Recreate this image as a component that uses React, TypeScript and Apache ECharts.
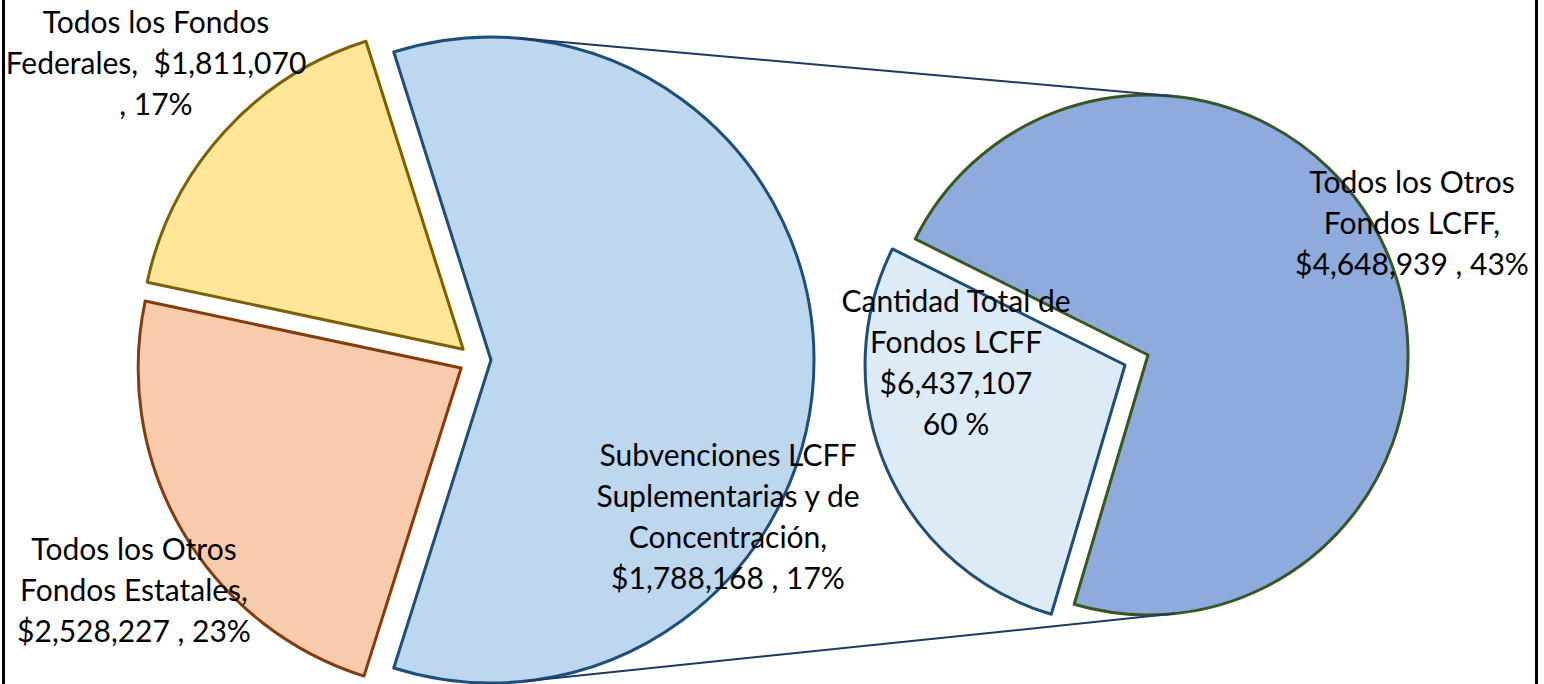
import { useEffect, useRef } from "react";
import * as echarts from "echarts";

// ---- Data ----
const leftNames = [
  "Cantidad Total de Fondos LCFF",
  "Todos los Otros Fondos Estatales",
  "Todos los Fondos Federales",
];
const leftValues = [6437107, 2528227, 1811070];
const leftLabelTemplates = [
  "Cantidad Total de\nFondos LCFF\n{v}\n{p} %",
  "Todos los Otros\nFondos Estatales,\n{v} , {p}%",
  "Todos los Fondos\nFederales,  {v}\n, {p}%",
];

const rightNames = [
  "Todos los Otros Fondos LCFF",
  "Subvenciones LCFF Suplementarias y de Concentración",
];
const rightValues = [4648939, 1788168];
const rightLabelTemplates = [
  "Todos los Otros\nFondos LCFF,\n{v} , {p}%",
  "Subvenciones LCFF\nSuplementarias y de\nConcentración,\n{v} , {p}%",
];

// ---- Styles / layout ----
const leftFill = ["#BDD7EE", "#F8CBAD", "#FFE699"];
const leftBorder = ["#1F4E79", "#843C0C", "#7F6000"];
const rightFill = ["#8FAADC", "#DDEBF7"];
const rightBorder = ["#385723", "#1F4E79"];

const leftCenter = [475, 360];
const leftRadius = 323;
const leftOffset = 16;
const rightCenter = [1148, 355];
const rightRadius = 260;
const rightOffset = 25;
const rightStartAngle = 153.5;

const leftLabelPos = [
  [956, 361],
  [134, 589],
  [156, 62],
];
const rightLabelPos = [
  [1412, 222],
  [728, 515],
];

const fmtMoney = (v: number) => "$" + v.toLocaleString("en-US");

export default function App() {
  const ref = useRef<HTMLDivElement>(null);

  useEffect(() => {
    if (!ref.current) return;
    const chart = echarts.init(ref.current, null, { renderer: "svg" });

    const total = leftValues.reduce((a, b) => a + b, 0);
    const leftStart = ((leftValues[0] / total) * 360) / 2;

    const labelText = (tpl: string, v: number) =>
      tpl.replace("{v}", fmtMoney(v)).replace("{p}", String(Math.round((v / total) * 100)));

    const textEl = (txt: string, pos: number[]) => ({
      type: "text",
      z: 200,
      x: pos[0],
      y: pos[1],
      style: {
        text: txt,
        fill: "#000",
        font: "30px Lato",
        lineHeight: 41,
        align: "center",
        verticalAlign: "middle",
      },
    });

    // connector tangent lines between exploded left slice circle and right pie
    const c1 = [leftCenter[0] + leftOffset, leftCenter[1]];
    const c2 = rightCenter;
    const dx = c2[0] - c1[0];
    const dy = c2[1] - c1[1];
    const L = Math.sqrt(dx * dx + dy * dy);
    const ux = dx / L;
    const uy = dy / L;
    const k = (leftRadius - rightRadius) / L;
    const s = Math.sqrt(1 - k * k);
    const tangent = (sign: number) => {
      const vx = -uy * sign;
      const vy = ux * sign;
      const nx = ux * k + vx * s;
      const ny = uy * k + vy * s;
      return [
        c1[0] + leftRadius * nx,
        c1[1] + leftRadius * ny,
        c2[0] + rightRadius * nx,
        c2[1] + rightRadius * ny,
      ];
    };
    const top = tangent(-1);
    const bot = tangent(1);

    const option: any = {
      animation: false,
      backgroundColor: "#fff",
      series: [
        {
          type: "pie",
          center: leftCenter,
          radius: leftRadius,
          startAngle: leftStart,
          clockwise: true,
          selectedMode: "multiple",
          selectedOffset: leftOffset,
          avoidLabelOverlap: false,
          emphasis: { disabled: true },
          label: { show: false },
          labelLine: { show: false },
          data: leftValues.map((v, i) => {
            const st = { color: leftFill[i], borderColor: leftBorder[i], borderWidth: 3 };
            return {
              name: leftNames[i],
              value: v,
              selected: true,
              itemStyle: st,
              select: { itemStyle: st },
            };
          }),
        },
        {
          type: "pie",
          center: rightCenter,
          radius: rightRadius,
          startAngle: rightStartAngle,
          clockwise: true,
          selectedMode: "multiple",
          selectedOffset: rightOffset,
          avoidLabelOverlap: false,
          emphasis: { disabled: true },
          label: { show: false },
          labelLine: { show: false },
          data: rightValues.map((v, i) => {
            const st = { color: rightFill[i], borderColor: rightBorder[i], borderWidth: 3 };
            return {
              name: rightNames[i],
              value: v,
              selected: i === 1,
              itemStyle: st,
              select: { itemStyle: st },
            };
          }),
        },
      ],
      graphic: [
        {
          type: "line",
          z: 100,
          shape: { x1: top[0], y1: top[1], x2: top[2], y2: top[3] },
          style: { stroke: "#1F3864", lineWidth: 2 },
        },
        {
          type: "line",
          z: 100,
          shape: { x1: bot[0], y1: bot[1], x2: bot[2], y2: bot[3] },
          style: { stroke: "#1F3864", lineWidth: 2 },
        },
        {
          type: "rect",
          z: 100,
          shape: { x: 2, y: 0, width: 3, height: 684 },
          style: { fill: "#000" },
        },
        {
          type: "rect",
          z: 100,
          shape: { x: 1535, y: 0, width: 3, height: 684 },
          style: { fill: "#000" },
        },
        ...leftValues.map((v, i) => textEl(labelText(leftLabelTemplates[i], v), leftLabelPos[i])),
        ...rightValues.map((v, i) => textEl(labelText(rightLabelTemplates[i], v), rightLabelPos[i])),
      ],
    };

    chart.setOption(option);
    return () => chart.dispose();
  }, []);

  return (
    <div
      ref={ref}
      style={{ position: "fixed", left: 0, top: 0, width: 1544, height: 684, background: "#fff" }}
    />
  );
}
